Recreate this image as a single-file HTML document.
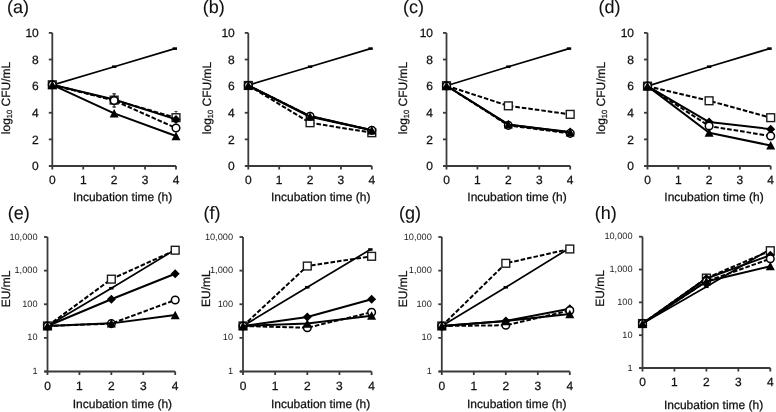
<!DOCTYPE html>
<html><head><meta charset="utf-8"><title>Figure</title>
<style>
html,body{margin:0;padding:0;background:#fff;}
body{width:776px;height:412px;overflow:hidden;}
svg{display:block;font-family:"Liberation Sans", sans-serif;fill:#000;filter:grayscale(1);text-rendering:geometricPrecision;}
svg text{fill:#111;stroke:#111;stroke-width:0.25px;}
svg text.sm{fill:#222;stroke:none;}
svg text.lb{fill:#111;stroke:#111;stroke-width:0.1px;}
</style></head>
<body>
<svg width="776" height="412" viewBox="0 0 776 412">
<rect width="776" height="412" fill="#fff"/>
<text x="7.00" y="13.10" font-size="18" text-anchor="start" class="lb">(a)</text>
<path d="M52.30,32.90V166.00" stroke="#3a3a3a" stroke-width="1.8" fill="none"/>
<path d="M49.30,166.00H176.00" stroke="#3a3a3a" stroke-width="1.8" fill="none"/>
<path d="M48.80,166.00H52.30" stroke="#3a3a3a" stroke-width="1.8"/>
<path d="M48.80,139.38H52.30" stroke="#3a3a3a" stroke-width="1.8"/>
<path d="M48.80,112.76H52.30" stroke="#3a3a3a" stroke-width="1.8"/>
<path d="M48.80,86.14H52.30" stroke="#3a3a3a" stroke-width="1.8"/>
<path d="M48.80,59.52H52.30" stroke="#3a3a3a" stroke-width="1.8"/>
<path d="M48.80,32.90H52.30" stroke="#3a3a3a" stroke-width="1.8"/>
<path d="M52.30,166.00V169.50" stroke="#3a3a3a" stroke-width="1.8"/>
<path d="M83.22,166.00V169.50" stroke="#3a3a3a" stroke-width="1.8"/>
<path d="M114.15,166.00V169.50" stroke="#3a3a3a" stroke-width="1.8"/>
<path d="M145.07,166.00V169.50" stroke="#3a3a3a" stroke-width="1.8"/>
<path d="M176.00,166.00V169.50" stroke="#3a3a3a" stroke-width="1.8"/>
<text x="38.80" y="170.30" font-size="12" text-anchor="end" >0</text>
<text x="38.80" y="143.68" font-size="12" text-anchor="end" >2</text>
<text x="38.80" y="117.06" font-size="12" text-anchor="end" >4</text>
<text x="38.80" y="90.44" font-size="12" text-anchor="end" >6</text>
<text x="38.80" y="63.82" font-size="12" text-anchor="end" >8</text>
<text x="38.80" y="37.20" font-size="12" text-anchor="end" >10</text>
<text x="52.30" y="184.20" font-size="12" text-anchor="middle" >0</text>
<text x="83.22" y="184.20" font-size="12" text-anchor="middle" >1</text>
<text x="114.15" y="184.20" font-size="12" text-anchor="middle" >2</text>
<text x="145.07" y="184.20" font-size="12" text-anchor="middle" >3</text>
<text x="176.00" y="184.20" font-size="12" text-anchor="middle" >4</text>
<text x="122.60" y="201.00" font-size="12" text-anchor="middle" >Incubation time (h)</text>
<text transform="translate(10.40,98) rotate(-90)" font-size="12" text-anchor="middle">log<tspan font-size="7.5" dy="2">10</tspan><tspan dy="-2"> CFU/mL</tspan></text>
<path d="M52.30,85.08L114.15,66.71L174.80,48.61" fill="none" stroke="#000" stroke-width="1.7" stroke-linejoin="round"/>
<rect x="50.10" y="83.78" width="4.4" height="2.6" fill="#000"/>
<rect x="111.95" y="65.41" width="4.4" height="2.6" fill="#000"/>
<rect x="172.60" y="47.31" width="4.4" height="2.6" fill="#000"/>
<path d="M52.30,84.81L114.15,100.12L176.00,117.68" fill="none" stroke="#000" stroke-width="2.0" stroke-dasharray="4.6 1.95" stroke-linejoin="round"/>
<rect x="48.40" y="80.91" width="7.80" height="7.80" fill="#fff" stroke="#1c1c1c" stroke-width="1.4"/>
<path d="M114.15,93.62V106.62M112.55,93.62H115.75M112.55,106.62H115.75" stroke="#333" stroke-width="0.9" fill="none"/>
<rect x="110.25" y="96.22" width="7.80" height="7.80" fill="#fff" stroke="#1c1c1c" stroke-width="1.4"/>
<path d="M176.00,111.38V120.68M174.40,111.38H177.60M174.40,120.68H177.60" stroke="#333" stroke-width="0.9" fill="none"/>
<rect x="172.10" y="113.78" width="7.80" height="7.80" fill="#fff" stroke="#1c1c1c" stroke-width="1.4"/>
<path d="M52.30,84.81L114.15,99.45L176.00,119.42" fill="none" stroke="#000" stroke-width="2.0" stroke-linejoin="round"/>
<path d="M52.30,80.31L56.80,84.81L52.30,89.31L47.80,84.81Z" fill="#000"/>
<path d="M114.15,94.95L118.65,99.45L114.15,103.95L109.65,99.45Z" fill="#000"/>
<path d="M176.00,114.92L180.50,119.42L176.00,123.92L171.50,119.42Z" fill="#000"/>
<path d="M52.30,84.81L114.15,100.51L176.00,128.07" fill="none" stroke="#000" stroke-width="2.0" stroke-dasharray="4.6 1.95" stroke-linejoin="round"/>
<circle cx="52.30" cy="84.81" r="3.80" fill="#fff" stroke="#000" stroke-width="1.5"/>
<path d="M114.15,94.01V107.31M112.55,94.01H115.75M112.55,107.31H115.75" stroke="#333" stroke-width="0.9" fill="none"/>
<circle cx="114.15" cy="100.51" r="3.80" fill="#fff" stroke="#000" stroke-width="1.5"/>
<circle cx="176.00" cy="128.07" r="3.80" fill="#fff" stroke="#000" stroke-width="1.5"/>
<path d="M52.30,84.81L114.15,113.43L176.00,136.05" fill="none" stroke="#000" stroke-width="2.0" stroke-linejoin="round"/>
<path d="M52.30,80.41L56.80,88.91L47.80,88.91Z" fill="#000"/>
<path d="M114.15,109.03L118.65,117.53L109.65,117.53Z" fill="#000"/>
<path d="M176.00,131.65L180.50,140.15L171.50,140.15Z" fill="#000"/>
<text x="202.70" y="13.10" font-size="18" text-anchor="start" class="lb">(b)</text>
<path d="M248.30,32.90V166.00" stroke="#3a3a3a" stroke-width="1.8" fill="none"/>
<path d="M245.30,166.00H371.80" stroke="#3a3a3a" stroke-width="1.8" fill="none"/>
<path d="M244.80,166.00H248.30" stroke="#3a3a3a" stroke-width="1.8"/>
<path d="M244.80,139.38H248.30" stroke="#3a3a3a" stroke-width="1.8"/>
<path d="M244.80,112.76H248.30" stroke="#3a3a3a" stroke-width="1.8"/>
<path d="M244.80,86.14H248.30" stroke="#3a3a3a" stroke-width="1.8"/>
<path d="M244.80,59.52H248.30" stroke="#3a3a3a" stroke-width="1.8"/>
<path d="M244.80,32.90H248.30" stroke="#3a3a3a" stroke-width="1.8"/>
<path d="M248.30,166.00V169.50" stroke="#3a3a3a" stroke-width="1.8"/>
<path d="M279.18,166.00V169.50" stroke="#3a3a3a" stroke-width="1.8"/>
<path d="M310.05,166.00V169.50" stroke="#3a3a3a" stroke-width="1.8"/>
<path d="M340.93,166.00V169.50" stroke="#3a3a3a" stroke-width="1.8"/>
<path d="M371.80,166.00V169.50" stroke="#3a3a3a" stroke-width="1.8"/>
<text x="234.80" y="170.30" font-size="12" text-anchor="end" >0</text>
<text x="234.80" y="143.68" font-size="12" text-anchor="end" >2</text>
<text x="234.80" y="117.06" font-size="12" text-anchor="end" >4</text>
<text x="234.80" y="90.44" font-size="12" text-anchor="end" >6</text>
<text x="234.80" y="63.82" font-size="12" text-anchor="end" >8</text>
<text x="234.80" y="37.20" font-size="12" text-anchor="end" >10</text>
<text x="248.30" y="184.20" font-size="12" text-anchor="middle" >0</text>
<text x="279.18" y="184.20" font-size="12" text-anchor="middle" >1</text>
<text x="310.05" y="184.20" font-size="12" text-anchor="middle" >2</text>
<text x="340.93" y="184.20" font-size="12" text-anchor="middle" >3</text>
<text x="371.80" y="184.20" font-size="12" text-anchor="middle" >4</text>
<text x="320.70" y="201.00" font-size="12" text-anchor="middle" >Incubation time (h)</text>
<text transform="translate(210.60,98) rotate(-90)" font-size="12" text-anchor="middle">log<tspan font-size="7.5" dy="2">10</tspan><tspan dy="-2"> CFU/mL</tspan></text>
<path d="M248.30,85.08L310.05,66.71L370.60,48.61" fill="none" stroke="#000" stroke-width="1.7" stroke-linejoin="round"/>
<rect x="246.10" y="83.78" width="4.4" height="2.6" fill="#000"/>
<rect x="307.85" y="65.41" width="4.4" height="2.6" fill="#000"/>
<rect x="368.40" y="47.31" width="4.4" height="2.6" fill="#000"/>
<path d="M248.30,85.47L310.05,122.74L371.80,132.72" fill="none" stroke="#000" stroke-width="2.0" stroke-dasharray="4.6 1.95" stroke-linejoin="round"/>
<rect x="244.40" y="81.57" width="7.80" height="7.80" fill="#fff" stroke="#1c1c1c" stroke-width="1.4"/>
<rect x="306.15" y="118.84" width="7.80" height="7.80" fill="#fff" stroke="#1c1c1c" stroke-width="1.4"/>
<rect x="367.90" y="128.82" width="7.80" height="7.80" fill="#fff" stroke="#1c1c1c" stroke-width="1.4"/>
<path d="M248.30,85.47L310.05,116.09L371.80,130.33" fill="none" stroke="#000" stroke-width="2.0" stroke-linejoin="round"/>
<path d="M248.30,80.97L252.80,85.47L248.30,89.97L243.80,85.47Z" fill="#000"/>
<path d="M310.05,111.59L314.55,116.09L310.05,120.59L305.55,116.09Z" fill="#000"/>
<path d="M371.80,125.83L376.30,130.33L371.80,134.83L367.30,130.33Z" fill="#000"/>
<path d="M248.30,85.47L310.05,116.22L371.80,130.20" fill="none" stroke="#000" stroke-width="2.0" stroke-dasharray="4.6 1.95" stroke-linejoin="round"/>
<circle cx="248.30" cy="85.47" r="3.80" fill="#fff" stroke="#000" stroke-width="1.5"/>
<circle cx="310.05" cy="116.22" r="3.80" fill="#fff" stroke="#000" stroke-width="1.5"/>
<circle cx="371.80" cy="130.20" r="3.80" fill="#fff" stroke="#000" stroke-width="1.5"/>
<path d="M248.30,85.47L310.05,116.75L371.80,130.33" fill="none" stroke="#000" stroke-width="2.0" stroke-linejoin="round"/>
<path d="M248.30,81.07L252.80,89.57L243.80,89.57Z" fill="#000"/>
<path d="M310.05,112.35L314.55,120.85L305.55,120.85Z" fill="#000"/>
<path d="M371.80,125.93L376.30,134.43L367.30,134.43Z" fill="#000"/>
<text x="403.00" y="13.10" font-size="18" text-anchor="start" class="lb">(c)</text>
<path d="M446.50,32.90V166.00" stroke="#3a3a3a" stroke-width="1.8" fill="none"/>
<path d="M443.50,166.00H570.20" stroke="#3a3a3a" stroke-width="1.8" fill="none"/>
<path d="M443.00,166.00H446.50" stroke="#3a3a3a" stroke-width="1.8"/>
<path d="M443.00,139.38H446.50" stroke="#3a3a3a" stroke-width="1.8"/>
<path d="M443.00,112.76H446.50" stroke="#3a3a3a" stroke-width="1.8"/>
<path d="M443.00,86.14H446.50" stroke="#3a3a3a" stroke-width="1.8"/>
<path d="M443.00,59.52H446.50" stroke="#3a3a3a" stroke-width="1.8"/>
<path d="M443.00,32.90H446.50" stroke="#3a3a3a" stroke-width="1.8"/>
<path d="M446.50,166.00V169.50" stroke="#3a3a3a" stroke-width="1.8"/>
<path d="M477.43,166.00V169.50" stroke="#3a3a3a" stroke-width="1.8"/>
<path d="M508.35,166.00V169.50" stroke="#3a3a3a" stroke-width="1.8"/>
<path d="M539.28,166.00V169.50" stroke="#3a3a3a" stroke-width="1.8"/>
<path d="M570.20,166.00V169.50" stroke="#3a3a3a" stroke-width="1.8"/>
<text x="433.00" y="170.30" font-size="12" text-anchor="end" >0</text>
<text x="433.00" y="143.68" font-size="12" text-anchor="end" >2</text>
<text x="433.00" y="117.06" font-size="12" text-anchor="end" >4</text>
<text x="433.00" y="90.44" font-size="12" text-anchor="end" >6</text>
<text x="433.00" y="63.82" font-size="12" text-anchor="end" >8</text>
<text x="433.00" y="37.20" font-size="12" text-anchor="end" >10</text>
<text x="446.50" y="184.20" font-size="12" text-anchor="middle" >0</text>
<text x="477.43" y="184.20" font-size="12" text-anchor="middle" >1</text>
<text x="508.35" y="184.20" font-size="12" text-anchor="middle" >2</text>
<text x="539.28" y="184.20" font-size="12" text-anchor="middle" >3</text>
<text x="570.20" y="184.20" font-size="12" text-anchor="middle" >4</text>
<text x="517.00" y="201.00" font-size="12" text-anchor="middle" >Incubation time (h)</text>
<text transform="translate(407.10,98) rotate(-90)" font-size="12" text-anchor="middle">log<tspan font-size="7.5" dy="2">10</tspan><tspan dy="-2"> CFU/mL</tspan></text>
<path d="M446.50,85.74L508.35,66.71L569.00,48.61" fill="none" stroke="#000" stroke-width="1.7" stroke-linejoin="round"/>
<rect x="444.30" y="84.44" width="4.4" height="2.6" fill="#000"/>
<rect x="506.15" y="65.41" width="4.4" height="2.6" fill="#000"/>
<rect x="566.80" y="47.31" width="4.4" height="2.6" fill="#000"/>
<path d="M446.50,85.74L508.35,105.84L570.20,114.36" fill="none" stroke="#000" stroke-width="2.0" stroke-dasharray="4.6 1.95" stroke-linejoin="round"/>
<rect x="442.60" y="81.84" width="7.80" height="7.80" fill="#fff" stroke="#1c1c1c" stroke-width="1.4"/>
<rect x="504.45" y="101.94" width="7.80" height="7.80" fill="#fff" stroke="#1c1c1c" stroke-width="1.4"/>
<rect x="566.30" y="110.46" width="7.80" height="7.80" fill="#fff" stroke="#1c1c1c" stroke-width="1.4"/>
<path d="M446.50,85.74L508.35,124.74L570.20,132.06" fill="none" stroke="#000" stroke-width="2.0" stroke-linejoin="round"/>
<path d="M446.50,81.24L451.00,85.74L446.50,90.24L442.00,85.74Z" fill="#000"/>
<path d="M508.35,120.24L512.85,124.74L508.35,129.24L503.85,124.74Z" fill="#000"/>
<path d="M570.20,127.56L574.70,132.06L570.20,136.56L565.70,132.06Z" fill="#000"/>
<path d="M446.50,85.74L508.35,125.40L570.20,133.39" fill="none" stroke="#000" stroke-width="2.0" stroke-dasharray="4.6 1.95" stroke-linejoin="round"/>
<circle cx="446.50" cy="85.74" r="3.80" fill="#fff" stroke="#000" stroke-width="1.5"/>
<circle cx="508.35" cy="125.40" r="3.80" fill="#fff" stroke="#000" stroke-width="1.5"/>
<circle cx="570.20" cy="133.39" r="3.80" fill="#fff" stroke="#000" stroke-width="1.5"/>
<path d="M446.50,85.74L508.35,124.47L570.20,132.46" fill="none" stroke="#000" stroke-width="2.0" stroke-linejoin="round"/>
<path d="M446.50,81.34L451.00,89.84L442.00,89.84Z" fill="#000"/>
<path d="M508.35,120.07L512.85,128.57L503.85,128.57Z" fill="#000"/>
<path d="M570.20,128.06L574.70,136.56L565.70,136.56Z" fill="#000"/>
<text x="598.50" y="13.10" font-size="18" text-anchor="start" class="lb">(d)</text>
<path d="M647.50,32.90V166.00" stroke="#3a3a3a" stroke-width="1.8" fill="none"/>
<path d="M644.50,166.00H770.70" stroke="#3a3a3a" stroke-width="1.8" fill="none"/>
<path d="M644.00,166.00H647.50" stroke="#3a3a3a" stroke-width="1.8"/>
<path d="M644.00,139.38H647.50" stroke="#3a3a3a" stroke-width="1.8"/>
<path d="M644.00,112.76H647.50" stroke="#3a3a3a" stroke-width="1.8"/>
<path d="M644.00,86.14H647.50" stroke="#3a3a3a" stroke-width="1.8"/>
<path d="M644.00,59.52H647.50" stroke="#3a3a3a" stroke-width="1.8"/>
<path d="M644.00,32.90H647.50" stroke="#3a3a3a" stroke-width="1.8"/>
<path d="M647.50,166.00V169.50" stroke="#3a3a3a" stroke-width="1.8"/>
<path d="M678.30,166.00V169.50" stroke="#3a3a3a" stroke-width="1.8"/>
<path d="M709.10,166.00V169.50" stroke="#3a3a3a" stroke-width="1.8"/>
<path d="M739.90,166.00V169.50" stroke="#3a3a3a" stroke-width="1.8"/>
<path d="M770.70,166.00V169.50" stroke="#3a3a3a" stroke-width="1.8"/>
<text x="634.00" y="170.30" font-size="12" text-anchor="end" >0</text>
<text x="634.00" y="143.68" font-size="12" text-anchor="end" >2</text>
<text x="634.00" y="117.06" font-size="12" text-anchor="end" >4</text>
<text x="634.00" y="90.44" font-size="12" text-anchor="end" >6</text>
<text x="634.00" y="63.82" font-size="12" text-anchor="end" >8</text>
<text x="634.00" y="37.20" font-size="12" text-anchor="end" >10</text>
<text x="647.50" y="184.20" font-size="12" text-anchor="middle" >0</text>
<text x="678.30" y="184.20" font-size="12" text-anchor="middle" >1</text>
<text x="709.10" y="184.20" font-size="12" text-anchor="middle" >2</text>
<text x="739.90" y="184.20" font-size="12" text-anchor="middle" >3</text>
<text x="770.70" y="184.20" font-size="12" text-anchor="middle" >4</text>
<text x="714.00" y="201.00" font-size="12" text-anchor="middle" >Incubation time (h)</text>
<text transform="translate(605.00,98) rotate(-90)" font-size="12" text-anchor="middle">log<tspan font-size="7.5" dy="2">10</tspan><tspan dy="-2"> CFU/mL</tspan></text>
<path d="M647.50,86.14L709.10,66.71L769.50,48.61" fill="none" stroke="#000" stroke-width="1.7" stroke-linejoin="round"/>
<rect x="645.30" y="84.84" width="4.4" height="2.6" fill="#000"/>
<rect x="706.90" y="65.41" width="4.4" height="2.6" fill="#000"/>
<rect x="767.30" y="47.31" width="4.4" height="2.6" fill="#000"/>
<path d="M647.50,86.14L709.10,100.78L770.70,117.68" fill="none" stroke="#000" stroke-width="2.0" stroke-dasharray="4.6 1.95" stroke-linejoin="round"/>
<rect x="643.60" y="82.24" width="7.80" height="7.80" fill="#fff" stroke="#1c1c1c" stroke-width="1.4"/>
<rect x="705.20" y="96.88" width="7.80" height="7.80" fill="#fff" stroke="#1c1c1c" stroke-width="1.4"/>
<rect x="766.80" y="113.78" width="7.80" height="7.80" fill="#fff" stroke="#1c1c1c" stroke-width="1.4"/>
<path d="M647.50,86.14L709.10,122.08L770.70,129.13" fill="none" stroke="#000" stroke-width="2.0" stroke-linejoin="round"/>
<path d="M647.50,81.64L652.00,86.14L647.50,90.64L643.00,86.14Z" fill="#000"/>
<path d="M709.10,117.58L713.60,122.08L709.10,126.58L704.60,122.08Z" fill="#000"/>
<path d="M770.70,124.63L775.20,129.13L770.70,133.63L766.20,129.13Z" fill="#000"/>
<path d="M647.50,86.14L709.10,126.07L770.70,136.05" fill="none" stroke="#000" stroke-width="2.0" stroke-dasharray="4.6 1.95" stroke-linejoin="round"/>
<circle cx="647.50" cy="86.14" r="3.80" fill="#fff" stroke="#000" stroke-width="1.5"/>
<circle cx="709.10" cy="126.07" r="3.80" fill="#fff" stroke="#000" stroke-width="1.5"/>
<circle cx="770.70" cy="136.05" r="3.80" fill="#fff" stroke="#000" stroke-width="1.5"/>
<path d="M647.50,86.14L709.10,132.72L770.70,145.50" fill="none" stroke="#000" stroke-width="2.0" stroke-linejoin="round"/>
<path d="M647.50,81.74L652.00,90.24L643.00,90.24Z" fill="#000"/>
<path d="M709.10,128.32L713.60,136.82L704.60,136.82Z" fill="#000"/>
<path d="M770.70,141.10L775.20,149.60L766.20,149.60Z" fill="#000"/>
<text x="7.70" y="219.10" font-size="18" text-anchor="start" class="lb">(e)</text>
<path d="M47.50,237.00V371.50" stroke="#3a3a3a" stroke-width="1.8" fill="none"/>
<path d="M44.50,371.50H175.20" stroke="#3a3a3a" stroke-width="1.8" fill="none"/>
<path d="M44.00,371.50H47.50" stroke="#3a3a3a" stroke-width="1.8"/>
<path d="M44.00,337.88H47.50" stroke="#3a3a3a" stroke-width="1.8"/>
<path d="M44.00,304.25H47.50" stroke="#3a3a3a" stroke-width="1.8"/>
<path d="M44.00,270.62H47.50" stroke="#3a3a3a" stroke-width="1.8"/>
<path d="M44.00,237.00H47.50" stroke="#3a3a3a" stroke-width="1.8"/>
<path d="M47.50,371.50V375.00" stroke="#3a3a3a" stroke-width="1.8"/>
<path d="M79.42,371.50V375.00" stroke="#3a3a3a" stroke-width="1.8"/>
<path d="M111.35,371.50V375.00" stroke="#3a3a3a" stroke-width="1.8"/>
<path d="M143.27,371.50V375.00" stroke="#3a3a3a" stroke-width="1.8"/>
<path d="M175.20,371.50V375.00" stroke="#3a3a3a" stroke-width="1.8"/>
<text x="37.50" y="374.10" font-size="9.2" text-anchor="end" class="sm">1</text>
<text x="37.50" y="340.48" font-size="9.2" text-anchor="end" class="sm">10</text>
<text x="37.50" y="306.85" font-size="9.2" text-anchor="end" class="sm">100</text>
<text x="37.50" y="273.23" font-size="9.2" text-anchor="end" class="sm">1,000</text>
<text x="37.50" y="239.60" font-size="9.2" text-anchor="end" class="sm">10,000</text>
<text x="47.50" y="389.70" font-size="12" text-anchor="middle" >0</text>
<text x="79.42" y="389.70" font-size="12" text-anchor="middle" >1</text>
<text x="111.35" y="389.70" font-size="12" text-anchor="middle" >2</text>
<text x="143.27" y="389.70" font-size="12" text-anchor="middle" >3</text>
<text x="175.20" y="389.70" font-size="12" text-anchor="middle" >4</text>
<text x="122.40" y="408.40" font-size="12" text-anchor="middle" >Incubation time (h)</text>
<text transform="translate(9.80,289) rotate(-90)" font-size="12" text-anchor="middle">EU/mL</text>
<path d="M47.50,325.97L111.35,288.21L174.00,250.38" fill="none" stroke="#000" stroke-width="1.7" stroke-linejoin="round"/>
<rect x="45.30" y="324.67" width="4.4" height="2.6" fill="#000"/>
<rect x="109.15" y="286.91" width="4.4" height="2.6" fill="#000"/>
<rect x="171.80" y="249.08" width="4.4" height="2.6" fill="#000"/>
<path d="M47.50,325.97L111.35,279.14L175.20,250.22" fill="none" stroke="#000" stroke-width="2.0" stroke-dasharray="4.6 1.95" stroke-linejoin="round"/>
<rect x="43.60" y="322.07" width="7.80" height="7.80" fill="#fff" stroke="#1c1c1c" stroke-width="1.4"/>
<rect x="107.45" y="275.24" width="7.80" height="7.80" fill="#fff" stroke="#1c1c1c" stroke-width="1.4"/>
<rect x="171.30" y="246.32" width="7.80" height="7.80" fill="#fff" stroke="#1c1c1c" stroke-width="1.4"/>
<path d="M47.50,325.97L111.35,299.23L175.20,273.72" fill="none" stroke="#000" stroke-width="2.0" stroke-linejoin="round"/>
<path d="M47.50,321.47L52.00,325.97L47.50,330.47L43.00,325.97Z" fill="#000"/>
<path d="M111.35,294.73L115.85,299.23L111.35,303.73L106.85,299.23Z" fill="#000"/>
<path d="M175.20,269.22L179.70,273.72L175.20,278.22L170.70,273.72Z" fill="#000"/>
<path d="M47.50,325.97L111.35,323.64L175.20,299.98" fill="none" stroke="#000" stroke-width="2.0" stroke-dasharray="4.6 1.95" stroke-linejoin="round"/>
<circle cx="47.50" cy="325.97" r="3.80" fill="#fff" stroke="#000" stroke-width="1.5"/>
<circle cx="111.35" cy="323.64" r="3.80" fill="#fff" stroke="#000" stroke-width="1.5"/>
<circle cx="175.20" cy="299.98" r="3.80" fill="#fff" stroke="#000" stroke-width="1.5"/>
<path d="M47.50,325.97L111.35,323.37L175.20,315.06" fill="none" stroke="#000" stroke-width="2.0" stroke-linejoin="round"/>
<path d="M47.50,321.57L52.00,330.07L43.00,330.07Z" fill="#000"/>
<path d="M111.35,318.97L115.85,327.47L106.85,327.47Z" fill="#000"/>
<path d="M175.20,310.66L179.70,319.16L170.70,319.16Z" fill="#000"/>
<text x="203.60" y="219.10" font-size="18" text-anchor="start" class="lb">(f)</text>
<path d="M243.00,237.00V371.50" stroke="#3a3a3a" stroke-width="1.8" fill="none"/>
<path d="M240.00,371.50H371.60" stroke="#3a3a3a" stroke-width="1.8" fill="none"/>
<path d="M239.50,371.50H243.00" stroke="#3a3a3a" stroke-width="1.8"/>
<path d="M239.50,337.88H243.00" stroke="#3a3a3a" stroke-width="1.8"/>
<path d="M239.50,304.25H243.00" stroke="#3a3a3a" stroke-width="1.8"/>
<path d="M239.50,270.62H243.00" stroke="#3a3a3a" stroke-width="1.8"/>
<path d="M239.50,237.00H243.00" stroke="#3a3a3a" stroke-width="1.8"/>
<path d="M243.00,371.50V375.00" stroke="#3a3a3a" stroke-width="1.8"/>
<path d="M275.15,371.50V375.00" stroke="#3a3a3a" stroke-width="1.8"/>
<path d="M307.30,371.50V375.00" stroke="#3a3a3a" stroke-width="1.8"/>
<path d="M339.45,371.50V375.00" stroke="#3a3a3a" stroke-width="1.8"/>
<path d="M371.60,371.50V375.00" stroke="#3a3a3a" stroke-width="1.8"/>
<text x="233.00" y="374.10" font-size="9.2" text-anchor="end" class="sm">1</text>
<text x="233.00" y="340.48" font-size="9.2" text-anchor="end" class="sm">10</text>
<text x="233.00" y="306.85" font-size="9.2" text-anchor="end" class="sm">100</text>
<text x="233.00" y="273.23" font-size="9.2" text-anchor="end" class="sm">1,000</text>
<text x="233.00" y="239.60" font-size="9.2" text-anchor="end" class="sm">10,000</text>
<text x="243.00" y="389.70" font-size="12" text-anchor="middle" >0</text>
<text x="275.15" y="389.70" font-size="12" text-anchor="middle" >1</text>
<text x="307.30" y="389.70" font-size="12" text-anchor="middle" >2</text>
<text x="339.45" y="389.70" font-size="12" text-anchor="middle" >3</text>
<text x="371.60" y="389.70" font-size="12" text-anchor="middle" >4</text>
<text x="320.60" y="408.40" font-size="12" text-anchor="middle" >Incubation time (h)</text>
<text transform="translate(210.20,288.6) rotate(-90)" font-size="12" text-anchor="middle">EU/mL</text>
<path d="M243.00,325.97L307.30,287.26L370.40,249.50" fill="none" stroke="#000" stroke-width="1.7" stroke-linejoin="round"/>
<rect x="240.80" y="324.67" width="4.4" height="2.6" fill="#000"/>
<rect x="305.10" y="285.96" width="4.4" height="2.6" fill="#000"/>
<rect x="368.20" y="248.20" width="4.4" height="2.6" fill="#000"/>
<path d="M243.00,325.97L307.30,266.03L371.60,256.31" fill="none" stroke="#000" stroke-width="2.0" stroke-dasharray="4.6 1.95" stroke-linejoin="round"/>
<rect x="239.10" y="322.07" width="7.80" height="7.80" fill="#fff" stroke="#1c1c1c" stroke-width="1.4"/>
<rect x="303.40" y="262.13" width="7.80" height="7.80" fill="#fff" stroke="#1c1c1c" stroke-width="1.4"/>
<rect x="367.70" y="252.41" width="7.80" height="7.80" fill="#fff" stroke="#1c1c1c" stroke-width="1.4"/>
<path d="M243.00,325.97L307.30,316.92L371.60,299.23" fill="none" stroke="#000" stroke-width="2.0" stroke-linejoin="round"/>
<path d="M243.00,321.47L247.50,325.97L243.00,330.47L238.50,325.97Z" fill="#000"/>
<path d="M307.30,312.42L311.80,316.92L307.30,321.42L302.80,316.92Z" fill="#000"/>
<path d="M371.60,294.73L376.10,299.23L371.60,303.73L367.10,299.23Z" fill="#000"/>
<path d="M243.00,325.97L307.30,327.75L371.60,312.20" fill="none" stroke="#000" stroke-width="2.0" stroke-dasharray="4.6 1.95" stroke-linejoin="round"/>
<circle cx="243.00" cy="325.97" r="3.80" fill="#fff" stroke="#000" stroke-width="1.5"/>
<circle cx="307.30" cy="327.75" r="3.80" fill="#fff" stroke="#000" stroke-width="1.5"/>
<circle cx="371.60" cy="312.20" r="3.80" fill="#fff" stroke="#000" stroke-width="1.5"/>
<path d="M243.00,325.97L307.30,323.53L371.60,315.75" fill="none" stroke="#000" stroke-width="2.0" stroke-linejoin="round"/>
<path d="M243.00,321.57L247.50,330.07L238.50,330.07Z" fill="#000"/>
<path d="M307.30,319.13L311.80,327.63L302.80,327.63Z" fill="#000"/>
<path d="M371.60,311.35L376.10,319.85L367.10,319.85Z" fill="#000"/>
<text x="399.00" y="219.10" font-size="18" text-anchor="start" class="lb">(g)</text>
<path d="M441.80,237.00V371.50" stroke="#3a3a3a" stroke-width="1.8" fill="none"/>
<path d="M438.80,371.50H569.80" stroke="#3a3a3a" stroke-width="1.8" fill="none"/>
<path d="M438.30,371.50H441.80" stroke="#3a3a3a" stroke-width="1.8"/>
<path d="M438.30,337.88H441.80" stroke="#3a3a3a" stroke-width="1.8"/>
<path d="M438.30,304.25H441.80" stroke="#3a3a3a" stroke-width="1.8"/>
<path d="M438.30,270.62H441.80" stroke="#3a3a3a" stroke-width="1.8"/>
<path d="M438.30,237.00H441.80" stroke="#3a3a3a" stroke-width="1.8"/>
<path d="M441.80,371.50V375.00" stroke="#3a3a3a" stroke-width="1.8"/>
<path d="M473.80,371.50V375.00" stroke="#3a3a3a" stroke-width="1.8"/>
<path d="M505.80,371.50V375.00" stroke="#3a3a3a" stroke-width="1.8"/>
<path d="M537.80,371.50V375.00" stroke="#3a3a3a" stroke-width="1.8"/>
<path d="M569.80,371.50V375.00" stroke="#3a3a3a" stroke-width="1.8"/>
<text x="431.80" y="374.10" font-size="9.2" text-anchor="end" class="sm">1</text>
<text x="431.80" y="340.48" font-size="9.2" text-anchor="end" class="sm">10</text>
<text x="431.80" y="306.85" font-size="9.2" text-anchor="end" class="sm">100</text>
<text x="431.80" y="273.23" font-size="9.2" text-anchor="end" class="sm">1,000</text>
<text x="431.80" y="239.60" font-size="9.2" text-anchor="end" class="sm">10,000</text>
<text x="441.80" y="389.70" font-size="12" text-anchor="middle" >0</text>
<text x="473.80" y="389.70" font-size="12" text-anchor="middle" >1</text>
<text x="505.80" y="389.70" font-size="12" text-anchor="middle" >2</text>
<text x="537.80" y="389.70" font-size="12" text-anchor="middle" >3</text>
<text x="569.80" y="389.70" font-size="12" text-anchor="middle" >4</text>
<text x="516.70" y="408.40" font-size="12" text-anchor="middle" >Incubation time (h)</text>
<text transform="translate(406.80,288.8) rotate(-90)" font-size="12" text-anchor="middle">EU/mL</text>
<path d="M441.80,325.97L505.80,287.26L568.60,248.66" fill="none" stroke="#000" stroke-width="1.7" stroke-linejoin="round"/>
<rect x="439.60" y="324.67" width="4.4" height="2.6" fill="#000"/>
<rect x="503.60" y="285.96" width="4.4" height="2.6" fill="#000"/>
<rect x="566.40" y="247.36" width="4.4" height="2.6" fill="#000"/>
<path d="M441.80,325.97L505.80,263.31L569.80,248.99" fill="none" stroke="#000" stroke-width="2.0" stroke-dasharray="4.6 1.95" stroke-linejoin="round"/>
<rect x="437.90" y="322.07" width="7.80" height="7.80" fill="#fff" stroke="#1c1c1c" stroke-width="1.4"/>
<rect x="501.90" y="259.41" width="7.80" height="7.80" fill="#fff" stroke="#1c1c1c" stroke-width="1.4"/>
<rect x="565.90" y="245.09" width="7.80" height="7.80" fill="#fff" stroke="#1c1c1c" stroke-width="1.4"/>
<path d="M441.80,325.97L505.80,320.89L569.80,308.65" fill="none" stroke="#000" stroke-width="2.0" stroke-linejoin="round"/>
<path d="M441.80,321.47L446.30,325.97L441.80,330.47L437.30,325.97Z" fill="#000"/>
<path d="M505.80,316.39L510.30,320.89L505.80,325.39L501.30,320.89Z" fill="#000"/>
<path d="M569.80,304.15L574.30,308.65L569.80,313.15L565.30,308.65Z" fill="#000"/>
<path d="M441.80,325.97L505.80,325.27L569.80,310.54" fill="none" stroke="#000" stroke-width="2.0" stroke-dasharray="4.6 1.95" stroke-linejoin="round"/>
<circle cx="441.80" cy="325.97" r="3.80" fill="#fff" stroke="#000" stroke-width="1.5"/>
<circle cx="505.80" cy="325.27" r="3.80" fill="#fff" stroke="#000" stroke-width="1.5"/>
<circle cx="569.80" cy="310.54" r="3.80" fill="#fff" stroke="#000" stroke-width="1.5"/>
<path d="M441.80,325.97L505.80,321.07L569.80,314.08" fill="none" stroke="#000" stroke-width="2.0" stroke-linejoin="round"/>
<path d="M441.80,321.57L446.30,330.07L437.30,330.07Z" fill="#000"/>
<path d="M505.80,316.67L510.30,325.17L501.30,325.17Z" fill="#000"/>
<path d="M569.80,309.68L574.30,318.18L565.30,318.18Z" fill="#000"/>
<text x="594.80" y="219.10" font-size="18" text-anchor="start" class="lb">(h)</text>
<path d="M642.50,236.70V368.00" stroke="#3a3a3a" stroke-width="1.8" fill="none"/>
<path d="M639.50,368.00H770.30" stroke="#3a3a3a" stroke-width="1.8" fill="none"/>
<path d="M639.00,368.00H642.50" stroke="#3a3a3a" stroke-width="1.8"/>
<path d="M639.00,335.18H642.50" stroke="#3a3a3a" stroke-width="1.8"/>
<path d="M639.00,302.35H642.50" stroke="#3a3a3a" stroke-width="1.8"/>
<path d="M639.00,269.52H642.50" stroke="#3a3a3a" stroke-width="1.8"/>
<path d="M639.00,236.70H642.50" stroke="#3a3a3a" stroke-width="1.8"/>
<path d="M642.50,368.00V371.50" stroke="#3a3a3a" stroke-width="1.8"/>
<path d="M674.45,368.00V371.50" stroke="#3a3a3a" stroke-width="1.8"/>
<path d="M706.40,368.00V371.50" stroke="#3a3a3a" stroke-width="1.8"/>
<path d="M738.35,368.00V371.50" stroke="#3a3a3a" stroke-width="1.8"/>
<path d="M770.30,368.00V371.50" stroke="#3a3a3a" stroke-width="1.8"/>
<text x="632.50" y="370.60" font-size="9.2" text-anchor="end" class="sm">1</text>
<text x="632.50" y="337.78" font-size="9.2" text-anchor="end" class="sm">10</text>
<text x="632.50" y="304.95" font-size="9.2" text-anchor="end" class="sm">100</text>
<text x="632.50" y="272.12" font-size="9.2" text-anchor="end" class="sm">1,000</text>
<text x="632.50" y="239.30" font-size="9.2" text-anchor="end" class="sm">10,000</text>
<text x="642.50" y="386.20" font-size="12" text-anchor="middle" >0</text>
<text x="674.45" y="386.20" font-size="12" text-anchor="middle" >1</text>
<text x="706.40" y="386.20" font-size="12" text-anchor="middle" >2</text>
<text x="738.35" y="386.20" font-size="12" text-anchor="middle" >3</text>
<text x="770.30" y="386.20" font-size="12" text-anchor="middle" >4</text>
<text x="713.60" y="408.60" font-size="12" text-anchor="middle" >Incubation time (h)</text>
<text transform="translate(604.30,288.3) rotate(-90)" font-size="12" text-anchor="middle">EU/mL</text>
<path d="M642.50,323.55L706.40,286.78L769.10,249.76" fill="none" stroke="#000" stroke-width="1.7" stroke-linejoin="round"/>
<rect x="640.30" y="322.25" width="4.4" height="2.6" fill="#000"/>
<rect x="704.20" y="285.48" width="4.4" height="2.6" fill="#000"/>
<rect x="766.90" y="248.46" width="4.4" height="2.6" fill="#000"/>
<path d="M642.50,323.55L706.40,278.10L770.30,250.72" fill="none" stroke="#000" stroke-width="2.0" stroke-dasharray="4.6 1.95" stroke-linejoin="round"/>
<rect x="638.60" y="319.65" width="7.80" height="7.80" fill="#fff" stroke="#1c1c1c" stroke-width="1.4"/>
<rect x="702.50" y="274.20" width="7.80" height="7.80" fill="#fff" stroke="#1c1c1c" stroke-width="1.4"/>
<rect x="766.40" y="246.82" width="7.80" height="7.80" fill="#fff" stroke="#1c1c1c" stroke-width="1.4"/>
<path d="M642.50,323.55L706.40,278.44L770.30,255.21" fill="none" stroke="#000" stroke-width="2.0" stroke-linejoin="round"/>
<path d="M642.50,319.05L647.00,323.55L642.50,328.05L638.00,323.55Z" fill="#000"/>
<path d="M706.40,273.94L710.90,278.44L706.40,282.94L701.90,278.44Z" fill="#000"/>
<path d="M770.30,250.71L774.80,255.21L770.30,259.71L765.80,255.21Z" fill="#000"/>
<path d="M642.50,323.55L706.40,281.42L770.30,258.75" fill="none" stroke="#000" stroke-width="2.0" stroke-dasharray="4.6 1.95" stroke-linejoin="round"/>
<circle cx="642.50" cy="323.55" r="3.80" fill="#fff" stroke="#000" stroke-width="1.5"/>
<circle cx="706.40" cy="281.42" r="3.80" fill="#fff" stroke="#000" stroke-width="1.5"/>
<circle cx="770.30" cy="258.75" r="3.80" fill="#fff" stroke="#000" stroke-width="1.5"/>
<path d="M642.50,323.55L706.40,281.42L770.30,266.23" fill="none" stroke="#000" stroke-width="2.0" stroke-linejoin="round"/>
<path d="M642.50,319.15L647.00,327.65L638.00,327.65Z" fill="#000"/>
<path d="M706.40,277.02L710.90,285.52L701.90,285.52Z" fill="#000"/>
<path d="M770.30,261.83L774.80,270.33L765.80,270.33Z" fill="#000"/>
</svg>
</body></html>
